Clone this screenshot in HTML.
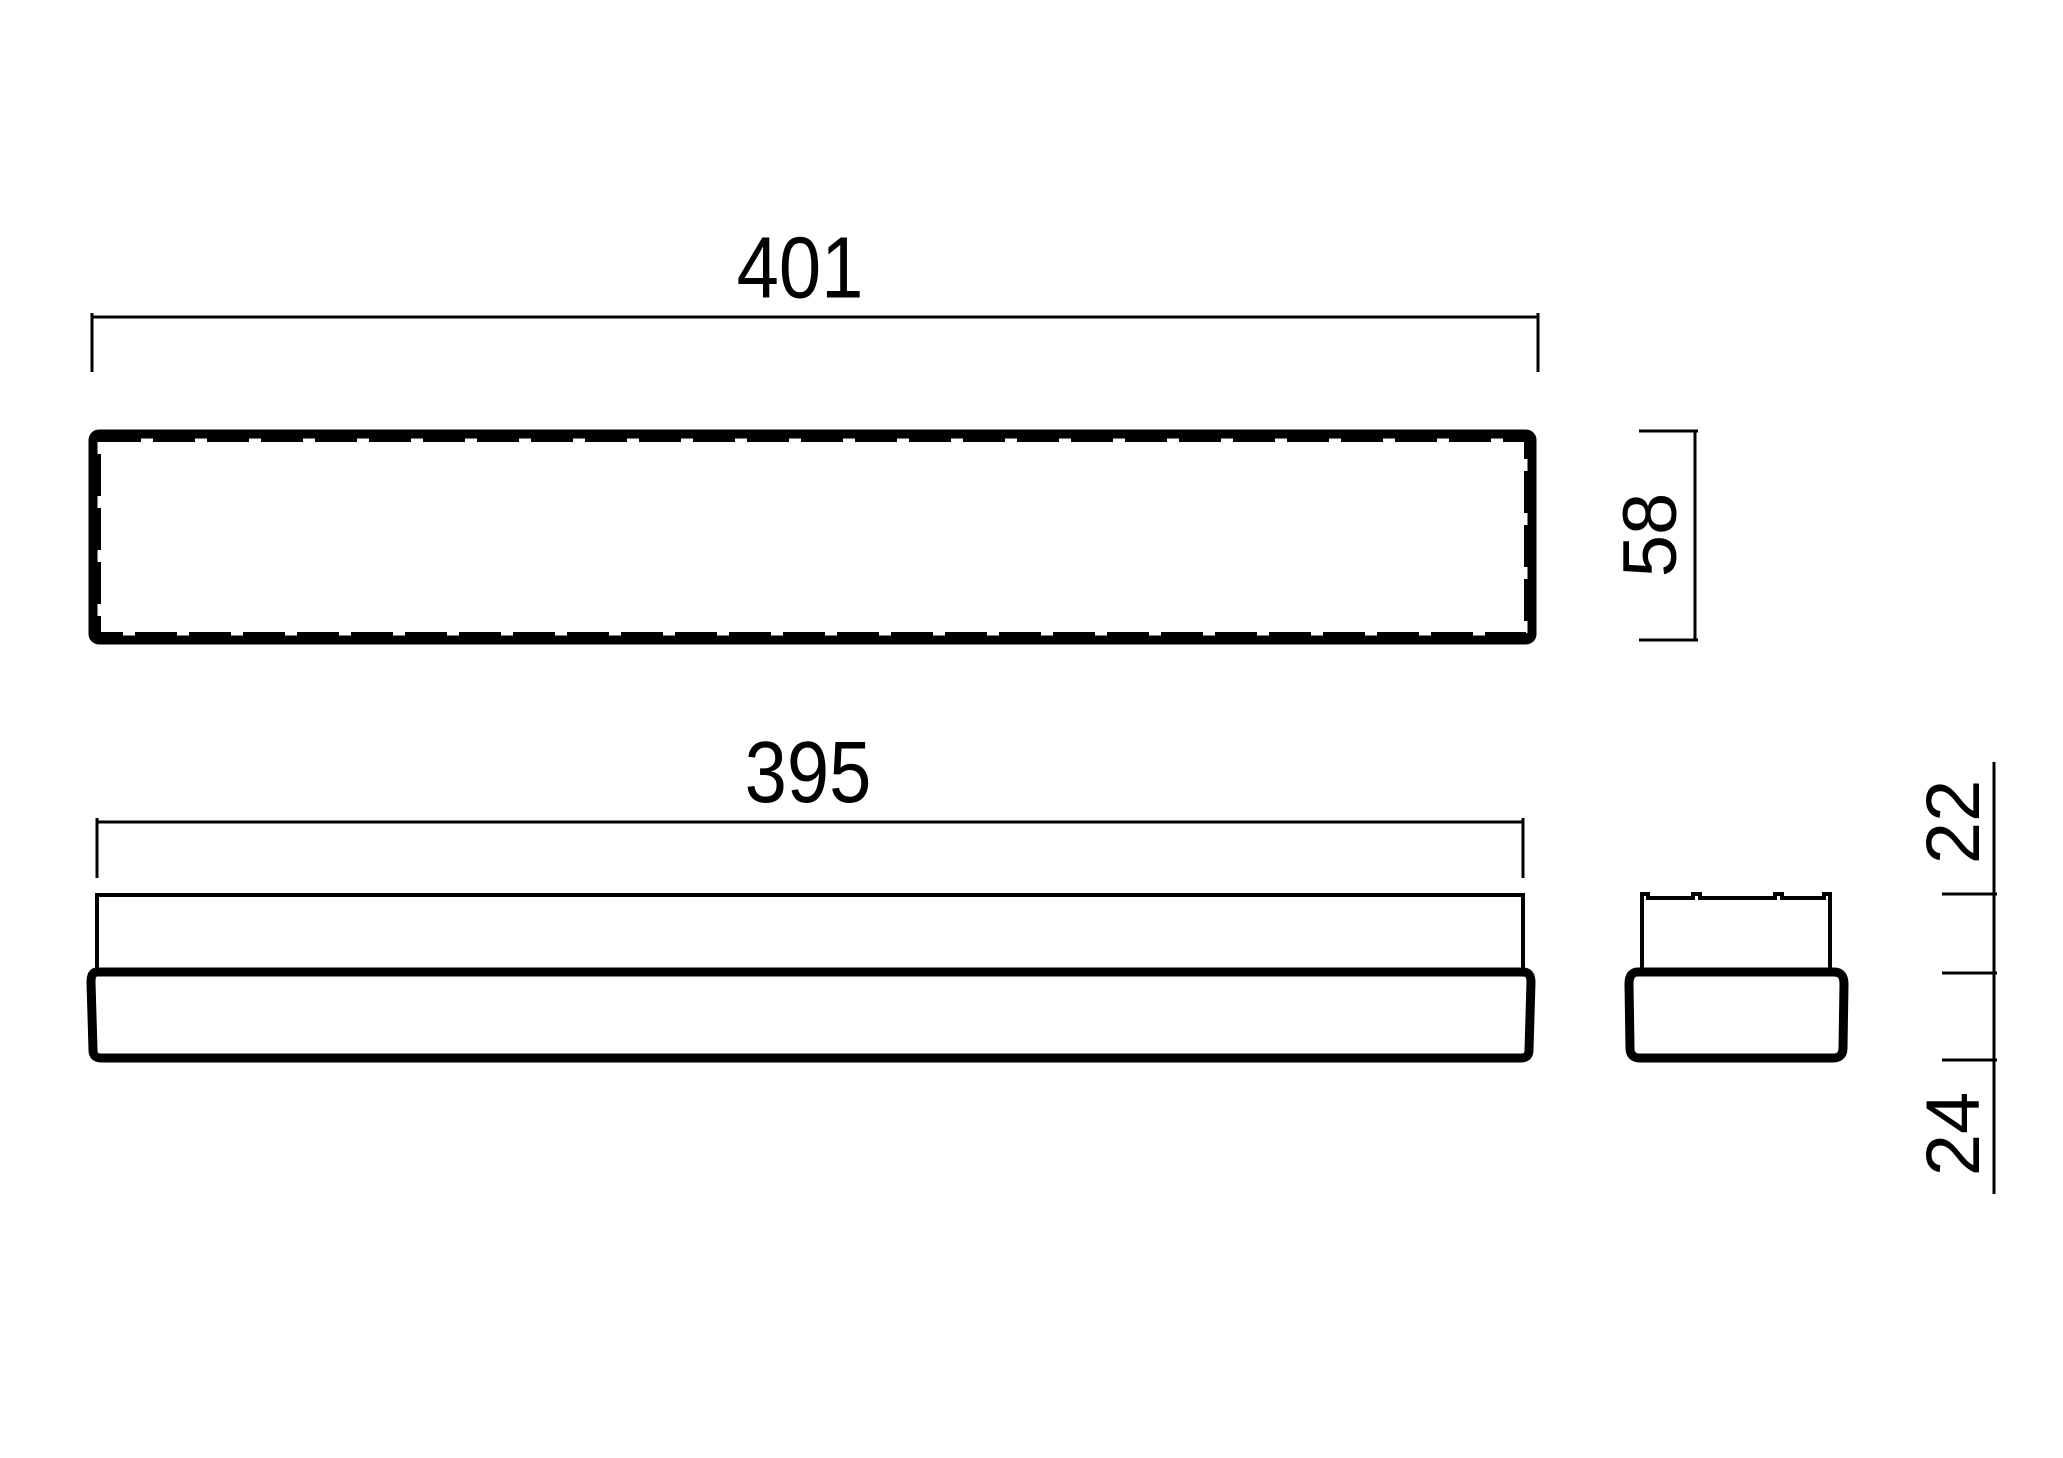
<!DOCTYPE html>
<html><head><meta charset="utf-8"><style>
html,body{margin:0;padding:0;background:#fff;}
svg{display:block;}
text{font-family:"Liberation Sans",sans-serif;fill:#000;}
</style></head><body>
<svg width="2063" height="1458" viewBox="0 0 2063 1458" xmlns="http://www.w3.org/2000/svg">
<rect width="2063" height="1458" fill="#fff"/>
<!-- 401 dimension -->
<text x="800" y="298" font-size="76" text-anchor="middle" transform="translate(0,-45) scale(1,1.15)">401</text>
<line x1="92" y1="317" x2="1538" y2="317" stroke="#000" stroke-width="3"/>
<line x1="92" y1="313" x2="92" y2="372" stroke="#000" stroke-width="3"/>
<line x1="1538" y1="313" x2="1538" y2="372" stroke="#000" stroke-width="3"/>
<!-- top view rect -->
<rect x="93" y="434" width="1439" height="206" rx="6" fill="none" stroke="#000" stroke-width="9"/>
<rect x="99" y="440" width="1427" height="194" fill="none" stroke="#000" stroke-width="4" stroke-dasharray="42 12"/>
<!-- 58 dimension -->
<line x1="1695" y1="431" x2="1695" y2="640" stroke="#000" stroke-width="3"/>
<line x1="1639" y1="431" x2="1698" y2="431" stroke="#000" stroke-width="3"/>
<line x1="1639" y1="640" x2="1698" y2="640" stroke="#000" stroke-width="3"/>
<text x="0" y="0" font-size="76" text-anchor="middle" transform="translate(1676,535) rotate(-90)">58</text>
<!-- 395 dimension -->
<text x="808" y="800" font-size="76" text-anchor="middle" transform="translate(0,-118) scale(1,1.15)">395</text>
<line x1="97" y1="822" x2="1523" y2="822" stroke="#000" stroke-width="3"/>
<line x1="97" y1="818" x2="97" y2="878" stroke="#000" stroke-width="3"/>
<line x1="1523" y1="818" x2="1523" y2="878" stroke="#000" stroke-width="3"/>
<!-- front view -->
<path d="M97 972 V895 H1523 V972" fill="none" stroke="#000" stroke-width="4"/>
<path d="M97 972 H1523 Q1531 972 1531 982 L1529 1050 Q1529 1058 1521 1058 H101 Q93 1058 93 1050 L91 982 Q91 972 97 972 Z" fill="none" stroke="#000" stroke-width="9"/>
<!-- side view -->
<path d="M1642 972 V894 H1648 V898 H1693 V894 H1700 V898 H1775 V894 H1782 V898 H1824 V894 H1830 V972" fill="none" stroke="#000" stroke-width="4"/>
<path d="M1638 972 H1834 Q1844 972 1844 984 L1843 1048 Q1843 1058 1833 1058 H1640 Q1630 1058 1630 1048 L1629 984 Q1629 972 1638 972 Z" fill="none" stroke="#000" stroke-width="9"/>
<!-- right dimensions -->
<line x1="1994" y1="762" x2="1994" y2="1194" stroke="#000" stroke-width="3"/>
<line x1="1942" y1="894" x2="1997" y2="894" stroke="#000" stroke-width="3"/>
<line x1="1942" y1="973" x2="1997" y2="973" stroke="#000" stroke-width="3"/>
<line x1="1942" y1="1060" x2="1997" y2="1060" stroke="#000" stroke-width="3"/>
<text x="0" y="0" font-size="76" text-anchor="middle" transform="translate(1979,822) rotate(-90)">22</text>
<text x="0" y="0" font-size="76" text-anchor="middle" transform="translate(1979,1134) rotate(-90)">24</text>
</svg>
</body></html>
